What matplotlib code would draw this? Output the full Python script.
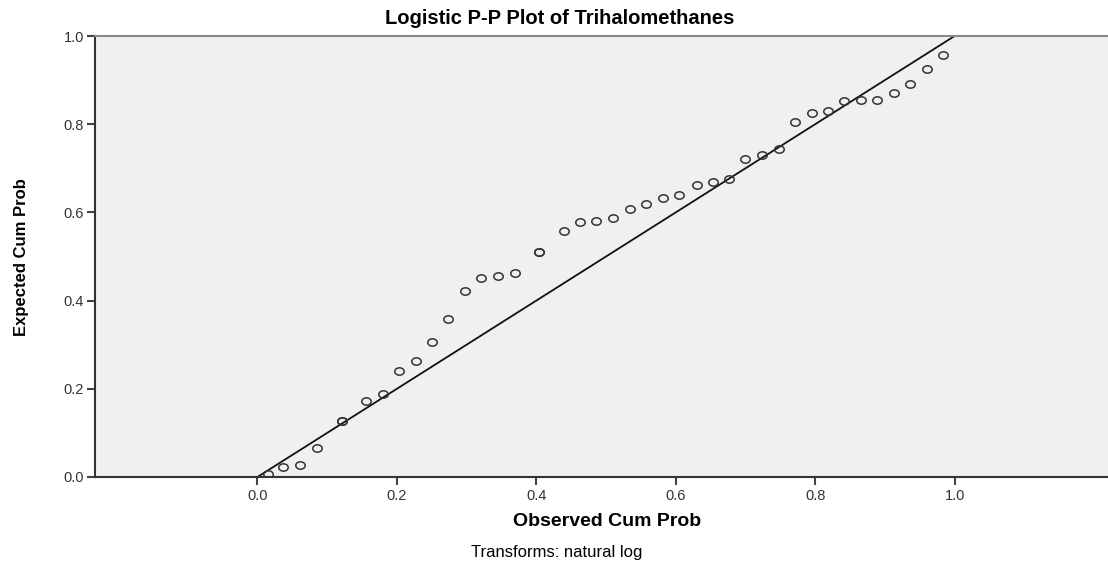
import matplotlib
matplotlib.use("Agg")
import matplotlib.pyplot as plt
import matplotlib.transforms as mtrans
from matplotlib.path import Path

# observed vs expected cumulative probabilities (ties drawn twice)
observed = [0.015, 0.037, 0.061, 0.085, 0.121, 0.121, 0.156, 0.180, 0.203, 0.227,
            0.250, 0.274, 0.298, 0.321, 0.345, 0.369, 0.404, 0.404, 0.439, 0.463,
            0.486, 0.510, 0.534, 0.558, 0.582, 0.605, 0.630, 0.653, 0.676, 0.700,
            0.724, 0.748, 0.771, 0.795, 0.818, 0.842, 0.865, 0.889, 0.913, 0.936,
            0.960, 0.984]
expected = [0.006, 0.023, 0.028, 0.065, 0.128, 0.128, 0.173, 0.188, 0.241, 0.264,
            0.306, 0.358, 0.422, 0.451, 0.456, 0.463, 0.510, 0.510, 0.558, 0.579,
            0.581, 0.587, 0.608, 0.620, 0.632, 0.639, 0.662, 0.668, 0.676, 0.720,
            0.730, 0.744, 0.806, 0.826, 0.829, 0.853, 0.855, 0.856, 0.871, 0.892,
            0.925, 0.958]
ref_line = [0.0, 1.0]
ticks = [0.0, 0.2, 0.4, 0.6, 0.8, 1.0]
tick_labels = ["0.0", "0.2", "0.4", "0.6", "0.8", "1.0"]

plt.rcParams["font.family"] = ["Liberation Sans", "DejaVu Sans"]

fig = plt.figure(figsize=(11.08, 5.63), dpi=100)
ax = fig.add_axes([95 / 1108, 86 / 563, 1 - 95 / 1108, 441 / 563])
ax.set_facecolor("#f0f0f0")

ellipse = Path.unit_circle().transformed(mtrans.Affine2D().scale(1.0, 0.78))
ax.plot(ref_line, ref_line, color="#111111", lw=1.3, zorder=2)
ax.plot(observed, expected, linestyle="none", marker=ellipse, markersize=6.8,
        markerfacecolor="none", markeredgecolor="#333333", markeredgewidth=1.1,
        zorder=3)

ax.set_xlim(-0.233, 1.22)
ax.set_ylim(0, 1)
ax.set_xticks(ticks)
ax.set_xticklabels(tick_labels)
ax.set_yticks(ticks)
ax.set_yticklabels(tick_labels)
ax.tick_params(axis="both", direction="out", length=6, width=1.5, color="#444444",
               labelsize=10.5, labelcolor="#333333")
ax.tick_params(axis="x", pad=3)
ax.tick_params(axis="y", pad=2)

for side in ["left", "bottom"]:
    ax.spines[side].set_color("#333333")
    ax.spines[side].set_linewidth(1.5)
ax.spines["top"].set_color("#888888")
ax.spines["top"].set_linewidth(1.5)
ax.spines["right"].set_visible(False)

fig.text(0.505, 1 - 18 / 563, "Logistic P-P Plot of Trihalomethanes",
         ha="center", va="center", fontsize=14.5, fontweight="bold")
fig.text(607 / 1108, 1 - 521 / 563, "Observed Cum Prob",
         ha="center", va="center", fontsize=14, fontweight="bold")
fig.text(557 / 1108, 1 - 553 / 563, "Transforms: natural log",
         ha="center", va="center", fontsize=12)
fig.text(22 / 1108, 1 - 257 / 563, "Expected Cum Prob", rotation=90,
         ha="center", va="center", fontsize=12, fontweight="bold",
         family=["Liberation Sans Narrow", "Liberation Sans", "DejaVu Sans"])

fig.savefig("out.png", dpi=100)
